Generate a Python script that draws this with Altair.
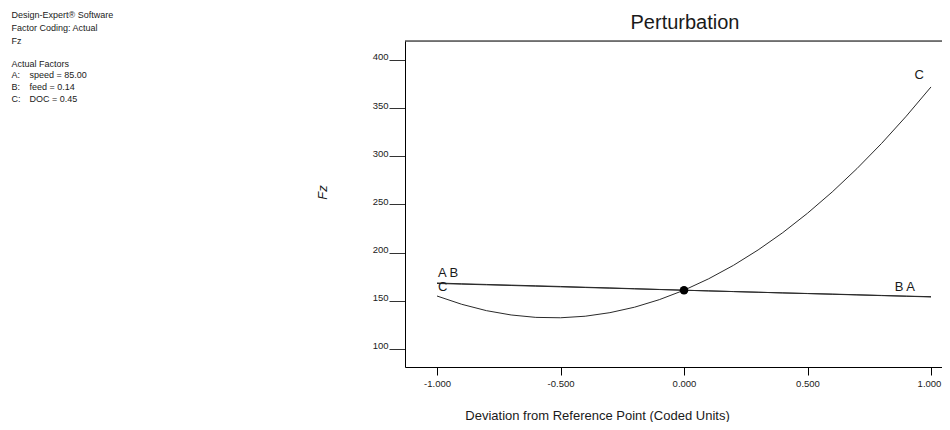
import altair as alt
import pandas as pd

# ---- data ----
dev = [-1.0, -0.9, -0.8, -0.7, -0.6, -0.5, -0.4, -0.3, -0.2, -0.1, 0.0,
       0.1, 0.2, 0.3, 0.4, 0.5, 0.6, 0.7, 0.8, 0.9, 1.0]
fz_A = [168.5, 167.7, 167.0, 166.3, 165.6, 164.9, 164.1, 163.4, 162.6, 161.8, 161.0,
        160.3, 159.6, 158.9, 158.2, 157.5, 156.8, 156.1, 155.4, 154.7, 154.0]
fz_B = [168.0, 167.3, 166.6, 165.9, 165.2, 164.5, 163.8, 163.1, 162.4, 161.7, 161.0,
        160.3, 159.6, 158.9, 158.2, 157.6, 157.0, 156.3, 155.6, 154.9, 154.3]
fz_C = [155.0, 146.4, 139.8, 135.3, 132.8, 132.4, 134.0, 137.7, 143.4, 151.2, 161.0,
        172.9, 186.8, 202.8, 220.8, 240.9, 263.0, 287.2, 313.4, 341.7, 372.0]
ref_point = {"x": [0.0], "y": [161.0]}

x_ticks = [-1.0, -0.5, 0.0, 0.5, 1.0]
y_ticks = [100, 150, 200, 250, 300, 350, 400]

chart_title = "Perturbation"
x_title = "Deviation from Reference Point (Coded Units)"
y_title = "Fz"
info_lines = ["Design-Expert® Software", "Factor Coding: Actual", "Fz", "Actual Factors"]
factor_keys = ["A:", "B:", "C:"]
factor_vals = ["speed = 85.00", "feed = 0.14", "DOC = 0.45"]

# ---- layout ----
W, H = 537, 326
LEFT, TOP, RIGHT, BOTTOM = 397, 33, 0, 55
X_DOM = [-1.1296, 1.0445]
Y_DOM = [81.3, 419.7]
FONT = "Liberation Sans"
INK = "#1a1a1a"

rows = []
for name, ys in (("A", fz_A), ("B", fz_B), ("C", fz_C)):
    for xv, yv in zip(dev, ys):
        rows.append({"factor": name, "x": xv, "y": yv})
df = pd.DataFrame(rows)

xs = alt.Scale(domain=X_DOM, nice=False, zero=False)
ys_ = alt.Scale(domain=Y_DOM, nice=False, zero=False)

x_axis = alt.Axis(values=x_ticks, grid=False, tickSize=8, labelPadding=3,
                  labelExpr="(datum.value < 0 ? '-' : '') + format(abs(datum.value), '.3f')",
                  labelOffset={"condition": {"test": "datum.value >= 1", "value": -2}, "value": 0},
                  labelFontSize=9.5, labelFont=FONT, labelColor=INK, domainColor="black",
                  tickColor="black", title=x_title,
                  titleFont=FONT, titleFontSize=13, titleFontWeight="normal", titleColor=INK,
                  titleX=192, titleY=48, titleAlign="center", titleBaseline="middle")
y_axis = alt.Axis(values=y_ticks, format="d", grid=False, tickSize=16, labelPadding=1,
                  labelBaseline="alphabetic", labelFontSize=9.5, labelFont=FONT,
                  labelColor=INK, domainColor="black", tickColor="#333", title=y_title,
                  titleFont=FONT, titleFontSize=13, titleFontWeight="normal",
                  titleFontStyle="italic", titleColor=INK, titleX=-83, titleY=151,
                  titleAngle=270, titleAlign="center", titleBaseline="middle")

lines = alt.Chart(df).mark_line(strokeWidth=1, color="#2a2a2a").encode(
    x=alt.X("x:Q", scale=xs, axis=x_axis),
    y=alt.Y("y:Q", scale=ys_, axis=y_axis),
    detail="factor:N",
    order="x:Q",
)

point = alt.Chart(pd.DataFrame(ref_point)).mark_point(
    filled=True, size=75, color="black", opacity=1
).encode(x=alt.X("x:Q", scale=xs), y=alt.Y("y:Q", scale=ys_))


def end_label(text, xv, yv, align, dx, dy):
    return alt.Chart(pd.DataFrame({"x": [xv], "y": [yv], "t": [text]})).mark_text(
        align=align, baseline="alphabetic", dx=dx, dy=dy, fontSize=13, font=FONT, color=INK
    ).encode(x=alt.X("x:Q", scale=xs), y=alt.Y("y:Q", scale=ys_), text="t:N")


labels = [
    end_label("A B", dev[0], fz_A[0], "left", 1, -6),
    end_label("C", dev[0], fz_C[0], "left", 1, -5),
    end_label("B A", dev[-1], fz_A[-1], "right", -16, -6),
    end_label("C", dev[-1], fz_C[-1], "right", -7, -8),
]

top_rule = alt.Chart(pd.DataFrame({"a": [0]})).mark_rule(color="black", strokeWidth=1).encode(
    x=alt.value(0), x2=alt.value(W + RIGHT), y=alt.value(0)
)


def page_text(text, px, py, size, align="left"):
    return alt.Chart(pd.DataFrame({"t": [text]})).mark_text(
        align=align, baseline="alphabetic", fontSize=size, font=FONT, color=INK
    ).encode(text="t:N", x=alt.value(px - 8 - LEFT), y=alt.value(py - 8 - TOP))


title_layer = page_text(chart_title, 685, 29, 20, "center")

info_layers = []
for line, py in zip(info_lines, [18, 30.5, 44, 67]):
    info_layers.append(page_text(line, 11.5, py, 9))
for k, v, py in zip(factor_keys, factor_vals, [78, 90, 101.5]):
    info_layers.append(page_text(k, 11.5, py, 9))
    info_layers.append(page_text(v, 29.5, py, 9))

chart = alt.layer(lines, point, top_rule, title_layer, *labels, *info_layers).properties(
    width=W,
    height=H,
    padding={"left": LEFT, "top": TOP, "right": RIGHT, "bottom": BOTTOM},
    autosize=alt.AutoSizeParams(type="none"),
).configure_view(stroke=None).configure(background="white")

chart.save("out.html", embed_options={"renderer": "svg", "actions": False})
